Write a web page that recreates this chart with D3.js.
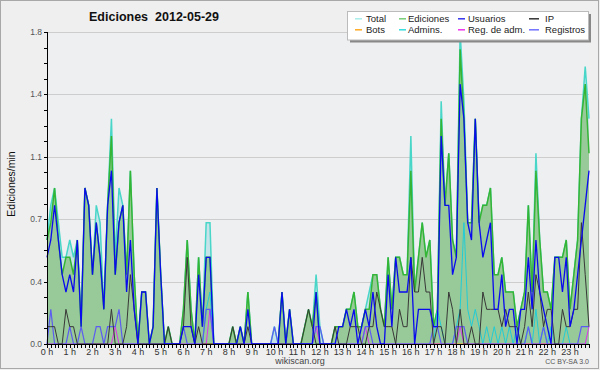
<!DOCTYPE html>
<html><head><meta charset="utf-8">
<script src="https://cdn.jsdelivr.net/npm/d3@7"></script>
<style>
html,body{margin:0;padding:0;background:#efefef;}
svg{display:block;}
text{font-family:"Liberation Sans",Arial,sans-serif;}
</style></head><body>
<svg id="c" width="600" height="370"></svg>
<script>
const hourLabels = ["0 h","1 h","2 h","3 h","4 h","5 h","6 h","7 h","8 h","9 h","10 h","11 h","12 h","13 h","14 h","15 h","16 h","17 h","18 h","19 h","20 h","21 h","22 h","23 h"];
const yTickValues = [0, 0.36, 0.72, 1.08, 1.44, 1.8];
const legendNames = ["Total","Ediciones","Usuarios","IP","Bots","Admins.","Reg. de adm.","Registros"];

const total = [
0.6,0.8,0.9,0.7,0.5,0.5,0.6,0.5,0.6,0.1,
0.9,0.8,0.4,0.8,0.7,0.2,0.8,1.3,0.5,0.9,
0.8,0.4,1.0,0.4,0,0.3,0.3,0,0.1,0.9,
0.4,0,0.1,0,0,0,0.2,0.6,0.2,0,
0.5,0.1,0.7,0.7,0,0,0,0,0,0.1,
0,0.1,0,0.3,0,0,0,0,0,0,
0.1,0,0.3,0,0.2,0,0,0,0.1,0.2,
0.1,0.4,0.1,0,0,0,0.1,0.1,0.1,0.2,
0.2,0.3,0.1,0.1,0.2,0.3,0.4,0.4,0.2,0.1,
0.5,0.2,0.5,0.5,0.4,0.4,1.2,0.3,0.5,0.7,
0.5,0.6,0.1,0.2,1.4,0.8,1.1,0.6,0.5,1.8,
1.4,0.7,0.7,1.3,0.7,0.8,0.8,0.9,0.4,0.4,
0.5,0.3,0.3,0.3,0.1,0.2,0.3,0.8,0.3,1.1,
0.6,0.3,0.3,0.2,0.5,0.5,0.5,0.6,0.2,0.4,
0.6,1.3,1.6,1.3];

const ediciones = [
0.6,0.7,0.9,0.6,0.4,0.5,0.5,0.4,0.6,0.1,
0.9,0.8,0.4,0.7,0.5,0.2,0.8,1.2,0.4,0.7,
0.8,0.4,1.0,0.4,0,0.3,0.3,0,0.1,0.9,
0.4,0,0.1,0,0,0,0.2,0.6,0.2,0,
0.5,0.1,0.5,0.5,0,0,0,0,0,0.1,
0,0.1,0,0.3,0,0,0,0,0,0,
0,0,0.3,0,0.2,0,0,0,0.1,0.2,
0.1,0.3,0,0,0,0,0.1,0.1,0.1,0.2,
0.2,0.3,0.1,0.1,0.2,0.2,0.4,0.4,0.2,0.1,
0.5,0.2,0.5,0.5,0.4,0.4,1.0,0.3,0.5,0.7,
0.5,0.6,0.1,0.2,1.3,0.8,1.1,0.6,0.5,1.7,
1.3,0.7,0.7,1.3,0.7,0.8,0.8,0.9,0.4,0.4,
0.5,0.3,0.3,0.3,0.1,0.2,0.3,0.8,0.3,1.0,
0.6,0.3,0.3,0.2,0.5,0.5,0.5,0.6,0.2,0.4,
0.6,1.3,1.5,1.1];

const usuarios = [
0.5,0.6,0.8,0.6,0.4,0.3,0.4,0.3,0.6,0.1,
0.9,0.8,0.4,0.7,0.5,0.2,0.8,1.0,0.4,0.7,
0.8,0.3,0.6,0.2,0,0.3,0.3,0,0.1,0.9,
0.4,0,0,0,0,0,0.1,0.1,0.1,0,
0.4,0.1,0.5,0.5,0,0,0,0,0,0,
0,0.1,0,0.2,0,0,0,0,0,0,
0,0,0.3,0,0.2,0,0,0,0,0,
0,0.3,0,0,0,0,0,0.1,0.1,0.2,
0.1,0.2,0,0.1,0.2,0.1,0.3,0.1,0,0,
0.4,0.1,0.5,0.3,0.3,0.3,0.5,0,0.2,0.2,
0.2,0.2,0.1,0.1,1.2,0.8,0.8,0.4,0.5,1.5,
1.3,0.7,0.6,1.3,0.7,0.5,0.6,0.7,0.2,0.2,
0.4,0.1,0.2,0.2,0,0.2,0.2,0.5,0.2,0.6,
0.3,0.2,0.1,0,0.5,0.5,0.3,0.5,0.1,0.2,
0.4,0.6,0.8,1.0];

const ip = [
0.1,0.1,0.1,0,0,0.2,0.1,0.1,0,0,
0,0,0,0,0,0,0,0.2,0,0,
0,0.1,0.4,0.2,0,0,0,0,0,0,
0,0,0.1,0,0,0,0.1,0.5,0.1,0,
0.1,0,0,0,0,0,0,0,0,0.1,
0,0,0,0.1,0,0,0,0,0,0,
0,0,0,0,0,0,0,0,0.1,0.2,
0.1,0,0,0,0,0,0.1,0,0,0,
0.1,0.1,0.1,0,0,0.1,0.1,0.3,0.2,0.1,
0.1,0.1,0,0.2,0.1,0.1,0.5,0.3,0.3,0.5,
0.3,0.3,0,0.1,0.1,0,0.3,0.2,0,0.2,
0,0,0.1,0,0,0.3,0.2,0.2,0.2,0.2,
0.1,0.2,0.1,0.1,0.1,0,0.1,0.3,0.1,0.4,
0.3,0.1,0.2,0.2,0,0,0.2,0.1,0.1,0.2,
0.2,0.7,0.4,0.1];

const bots = [
0,0,0,0,0,0,0,0,0,0, 0,0,0,0,0,0,0,0,0,0,
0,0,0,0,0,0,0,0,0,0, 0,0,0,0,0,0,0,0,0,0,
0,0,0,0,0,0,0,0,0,0, 0,0,0,0,0,0,0,0,0,0,
0,0,0,0,0,0,0,0,0,0, 0,0,0,0,0,0,0,0,0,0,
0,0,0,0,0,0,0,0,0,0, 0,0,0,0,0,0,0,0,0,0,
0,0,0,0,0,0,0,0,0,0, 0,0,0,0,0,0,0,0,0,0,
0,0,0,0,0,0,0,0,0,0, 0,0,0,0,0,0,0,0,0,0,
0,0,0,0];

const admins = [
0,0,0,0,0,0,0,0,0,0,
0,0,0,0,0,0,0,0,0,0,
0,0,0,0,0,0,0,0,0,0,
0,0,0,0,0,0,0,0,0,0,
0,0,0.2,0.3,0,0,0,0,0,0,
0,0,0,0,0,0,0,0,0,0,
0,0,0,0,0,0,0,0,0,0,
0,0,0,0,0,0,0,0,0,0,
0,0,0,0,0,0,0,0,0,0,
0,0,0,0,0,0,0,0,0,0,
0,0,0,0.2,0.1,0,0,0,0.1,0.2,
0.7,0.2,0.1,0.2,0.1,0,0.1,0,0.1,0,
0.1,0,0.1,0,0.1,0,0,0.1,0,0.2,
0,0.1,0,0.1,0,0,0,0.1,0,0,
0,0,0,0];

const regAdm = [
0,0,0,0,0,0,0,0,0,0,
0,0,0,0,0,0,0,0,0.1,0,
0,0,0,0,0,0,0,0,0,0,
0,0,0,0,0,0,0,0,0,0,
0,0,0,0.2,0,0,0,0,0,0,
0,0,0,0,0,0,0,0,0,0,
0,0,0,0,0,0,0,0,0,0,
0,0.1,0,0,0,0,0,0,0,0,
0,0,0,0,0.1,0,0,0,0,0,
0,0,0,0,0,0,0,0,0,0,
0,0,0,0,0,0,0,0,0,0.1,
0,0,0,0,0,0,0,0,0,0,
0,0,0,0,0,0,0,0,0,0,
0,0,0,0,0,0,0,0,0,0,
0,0,0,0.1];

const registros = [
0,0.2,0,0,0,0,0.1,0,0,0.1,
0,0,0,0.1,0.1,0,0.1,0.1,0.1,0.2,
0,0,0,0,0,0,0,0,0,0,
0,0,0,0,0,0,0.1,0,0,0,
0,0,0.2,0.2,0,0,0,0,0,0,
0,0,0,0,0,0,0,0,0,0,
0.1,0,0,0,0,0,0,0,0,0,
0,0.1,0.1,0,0,0,0,0,0,0,
0,0,0,0,0.1,0.1,0,0,0,0,
0,0,0,0,0,0,0,0,0,0,
0,0,0.1,0.1,0,0,0,0,0.1,0.1,
0.1,0,0,0,0,0,0,0,0,0,
0,0,0,0,0,0,0,0.1,0,0,
0,0.1,0,0,0,0,0,0,0,0,
0,0.1,0.1,0.1];

const svg = d3.select("#c");
const W = 600, H = 370;
const L = 47, R = 589, T = 32, B = 344;

svg.append("rect").attr("x",0.5).attr("y",0.5).attr("width",W-2).attr("height",H-2)
  .attr("fill","#efefef").attr("stroke","#a8a8a8");
svg.append("rect").attr("x",L).attr("y",T).attr("width",R-L).attr("height",B-T).attr("fill","#eeeff1");

const x = d3.scaleLinear().domain([0, total.length-1]).range([L, R]);
const y = d3.scaleLinear().domain([0, 1.8]).range([B, T]);

// grid
svg.append("g").selectAll("line").data(yTickValues.slice(1)).join("line")
  .attr("x1",L).attr("x2",R).attr("y1",d=>Math.round(y(d))+0.5).attr("y2",d=>Math.round(y(d))+0.5)
  .attr("stroke","#cdcdcd").attr("stroke-width",1);

const area = d3.area().x((d,i)=>x(i)).y0(y(0)).y1(d=>y(d));
const line = d3.line().x((d,i)=>x(i)).y(d=>y(d));

svg.append("path").datum(total).attr("d",area).attr("fill","#c6e3ea");
svg.append("path").datum(total).attr("d",line).attr("fill","none").attr("stroke","#48d6c8").attr("stroke-width",1.5);
svg.append("path").datum(ediciones).attr("d",area).attr("fill","#98c998");
svg.append("path").datum(ediciones).attr("d",line).attr("fill","none").attr("stroke","#35b535").attr("stroke-width",1.5);

const lines = [
  {d:bots, c:"#ffa020", w:1},
  {d:admins, c:"#22ccd6", w:1},
  {d:regAdm, c:"#dd33ee", w:1},
  {d:registros, c:"#5c5cf2", w:1.2},
  {d:ip, c:"#383838", w:1},
  {d:usuarios, c:"#0a0aee", w:1.3}
];
lines.forEach(s=>{
  svg.append("path").datum(s.d).attr("d",line).attr("fill","none")
    .attr("stroke",s.c).attr("stroke-width",s.w).attr("stroke-linejoin","miter");
});

// y axis
const yMinor = d3.range(0, 21).map(k=>k*0.09);
const yAxis = svg.append("g");
yAxis.append("line").attr("x1",L+0.5).attr("x2",L+0.5).attr("y1",T).attr("y2",B).attr("stroke","#000");
yAxis.selectAll(".mt").data(yMinor).join("line")
  .attr("x1",L-3).attr("x2",L).attr("y1",d=>Math.round(y(d))+0.5).attr("y2",d=>Math.round(y(d))+0.5)
  .attr("stroke","#000");
yAxis.selectAll(".lab").data(yTickValues).join("text")
  .attr("x",L-5).attr("y",d=>y(d)+3).attr("text-anchor","end")
  .attr("font-size",8.5).attr("fill","#555").text(d=>d3.format(".1f")(d));

// x axis
const xAxis = svg.append("g");
xAxis.append("line").attr("x1",L).attr("x2",R+1).attr("y1",B+0.5).attr("y2",B+0.5).attr("stroke","#000");
xAxis.selectAll(".xt").data(d3.range(total.length)).join("line")
  .attr("x1",d=>Math.round(x(d))+0.5).attr("x2",d=>Math.round(x(d))+0.5).attr("y1",B).attr("y2",B+4)
  .attr("stroke","#000");
xAxis.selectAll(".xl").data(hourLabels).join("text")
  .attr("x",(d,i)=>x(i*6)).attr("y",B+11).attr("text-anchor","middle")
  .attr("font-size",9).attr("fill","#333").text(d=>d);

// titles
svg.append("text").attr("x",154).attr("y",21).attr("text-anchor","middle")
  .attr("font-size",12.5).attr("font-weight","bold").attr("fill","#111")
  .style("white-space","pre").text("Ediciones  2012-05-29");
svg.append("text").attr("transform","translate(15,184) rotate(-90)").attr("text-anchor","middle")
  .attr("font-family","DejaVu Sans Mono").attr("font-size",10.5).attr("fill","#111").text("Ediciones/min");
svg.append("text").attr("x",300).attr("y",364).attr("text-anchor","middle")
  .attr("font-size",9).attr("fill","#444").text("wikiscan.org");
svg.append("text").attr("x",589).attr("y",364).attr("text-anchor","end")
  .attr("font-size",7).attr("fill","#555").text("CC BY-SA 3.0");

// legend
const lg = svg.append("g");
lg.append("rect").attr("x",350).attr("y",14).attr("width",241).attr("height",28.5).attr("fill","#888");
lg.append("rect").attr("x",347.5).attr("y",11.5).attr("width",241).attr("height",28.5).attr("fill","#fff").attr("stroke","#bbb");
const swatch = ["#a8eeea","#77cc77","#3333ee","#333333","#ffaa22","#33dddd","#ee33ee","#7070ff"];
const colX = [355, 399, 458, 529];
const txX = [366, 408, 468, 545];
const swW = [7, 7, 7, 10];
legendNames.forEach((n,k)=>{
  const c = k%4, r = Math.floor(k/4);
  const cy = 18.8 + r*11;
  lg.append("line").attr("x1",colX[c]).attr("x2",colX[c]+swW[c]).attr("y1",cy).attr("y2",cy)
    .attr("stroke",swatch[k]).attr("stroke-width",1.5);
  lg.append("text").attr("x",txX[c]).attr("y",cy+3.3).attr("font-size",9.5).attr("fill","#222").text(n);
});
</script>
</body></html>
